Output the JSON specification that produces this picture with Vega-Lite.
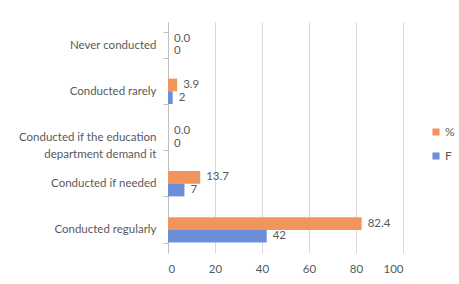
{
  "$schema": "https://vega.github.io/schema/vega-lite/v6.json",
  "width": 235,
  "height": 231,
  "autosize": {"type": "none"},
  "padding": {"left": 168, "top": 22, "right": 56, "bottom": 31},
  "background": "white",
  "config": {
    "font": "Lato",
    "view": {"stroke": null},
    "axis": {"labelColor": "#595959", "labelFont": "Lato", "labelFontSize": 11.5}
  },
  "data": {
    "values": [
      {"category": "Never conducted", "series": "%", "value": 0.0, "label": "0.0"},
      {"category": "Never conducted", "series": "F", "value": 0, "label": "0"},
      {"category": "Conducted rarely", "series": "%", "value": 3.9, "label": "3.9"},
      {"category": "Conducted rarely", "series": "F", "value": 2, "label": "2"},
      {"category": "Conducted if the education department demand it", "series": "%", "value": 0.0, "label": "0.0"},
      {"category": "Conducted if the education department demand it", "series": "F", "value": 0, "label": "0"},
      {"category": "Conducted if needed", "series": "%", "value": 13.7, "label": "13.7"},
      {"category": "Conducted if needed", "series": "F", "value": 7, "label": "7"},
      {"category": "Conducted regularly", "series": "%", "value": 82.4, "label": "82.4"},
      {"category": "Conducted regularly", "series": "F", "value": 42, "label": "42"}
    ]
  },
  "encoding": {
    "y": {
      "field": "category",
      "type": "nominal",
      "sort": null,
      "title": null,
      "scale": {"paddingInner": 0.45, "paddingOuter": 0.225},
      "axis": {
        "domainColor": "#bfbfbf",
        "tickColor": "#bfbfbf",
        "tickBand": "extent",
        "tickSize": 5,
        "labelPadding": 7,
        "labelLineHeight": 17,
        "labelExpr": "datum.label == 'Conducted if the education department demand it' ? ['Conducted if the education', 'department demand it'] : datum.label"
      }
    },
    "yOffset": {"field": "series", "type": "nominal", "sort": ["%", "F"]},
    "x": {
      "field": "value",
      "type": "quantitative",
      "title": null,
      "scale": {"domain": [0, 100], "nice": false},
      "axis": {
        "values": [0, 20, 40, 60, 80, 100],
        "domain": false,
        "ticks": false,
        "gridColor": "#d9d9d9",
        "labelPadding": 10
      }
    }
  },
  "layer": [
    {
      "mark": {"type": "bar"},
      "encoding": {
        "color": {
          "field": "series",
          "type": "nominal",
          "scale": {"domain": ["%", "F"], "range": ["#F0965C", "#6B8ED6"]},
          "legend": {
            "title": null,
            "orient": "none",
            "legendX": 262,
            "legendY": 104,
            "symbolType": "square",
            "symbolSize": 50,
            "symbolStrokeWidth": 0,
            "rowPadding": 12,
            "labelColor": "#595959",
            "labelFontSize": 12,
            "labelFont": "Lato",
            "labelOffset": 3
          }
        }
      }
    },
    {
      "mark": {"type": "text", "align": "left", "baseline": "middle", "dx": 6, "fontSize": 11.5, "color": "#595959"},
      "encoding": {"text": {"field": "label"}}
    }
  ]
}
